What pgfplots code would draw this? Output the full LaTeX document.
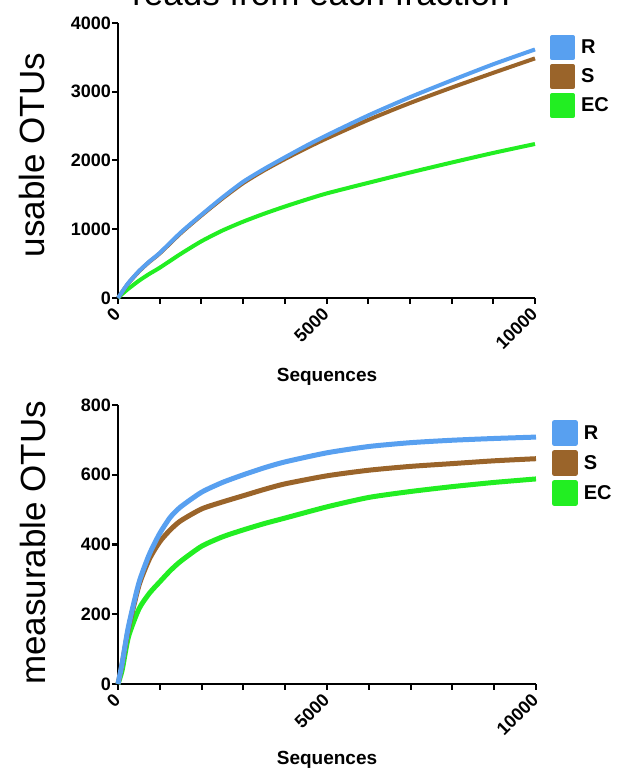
\documentclass[border=0pt]{standalone}
\usepackage{fontspec}
\setmainfont{Liberation Sans}
\usepackage{pgfplots}
\usepackage{pgfplotstable}
\pgfplotsset{compat=1.18}
\definecolor{rcol}{RGB}{88,160,240}
\definecolor{scol}{RGB}{154,100,42}
\definecolor{eccol}{RGB}{34,238,34}

\pgfplotstableread{
x R S EC
0 0 0 0
100 90 88 58
250 220 215 135
500 390 385 250
750 530 525 350
1000 655 648 440
1500 950 940 640
2000 1210 1200 825
2500 1460 1445 980
3000 1690 1670 1110
3500 1875 1855 1225
4000 2045 2020 1330
4500 2210 2175 1428
5000 2365 2320 1520
6000 2655 2590 1675
7000 2920 2835 1825
8000 3165 3060 1970
9000 3400 3275 2110
10000 3615 3485 2240
}\topdata

\pgfplotstableread{
x R S EC
0 0 0 0
100 60 58 40
250 165 158 135
500 290 282 215
750 372 358 260
1000 432 408 293
1250 478 442 325
1500 508 468 352
2000 550 502 395
2500 578 522 422
3000 600 540 442
3500 620 558 460
4000 637 574 476
5000 663 597 508
6000 681 613 535
7000 692 624 552
8000 699 632 566
9000 704 640 578
10000 708 646 588
}\botdata

\pgfplotsset{
 prism/.style={
  scale only axis,
  axis x line*=bottom, axis y line*=left,
  axis line style={line width=2.5pt, -},
  xmin=0, xmax=10000, ymin=0,
  scaled x ticks=false, scaled y ticks=false,
  xtick={0,1000,...,10000},
  xticklabels={0,,,,,5000,,,,,10000},
  tick align=outside,
  major tick length=6pt,
  tick style={black, line width=2pt},
  tick label style={font=\fontsize{18}{18}\selectfont\bfseries},
  yticklabel style={inner sep=1pt},
  xticklabel shift=6pt,
  xticklabel style={rotate=45, anchor=east, inner sep=1pt},
  /pgf/number format/assume math mode=true,
  /pgf/number format/1000 sep={},
  legend style={draw=none, fill=none, font=\fontsize{20}{20}\selectfont\bfseries,
    inner sep=0pt, outer sep=0pt,
    row sep=4pt, column sep=6pt, nodes={inner sep=0pt}, anchor=north west},
  legend cell align=left,
  reverse legend,
  legend image code/.code={\fill[sharp corners] (0pt,-10.5pt) rectangle (21pt,10.5pt);},
  every axis plot/.append style={no markers, line join=round, smooth, tension=0.4},
  clip=false,
 }
}

\begin{document}
\begin{tikzpicture}
\path[use as bounding box] (0,0) rectangle (616pt,775pt);

\node[anchor=base, font=\fontsize{35}{35}\selectfont] at (321pt,769pt) {reads from each fraction};

\begin{axis}[prism, at={(118pt,477pt)}, anchor=south west,
  width=417pt, height=275pt, ymax=4000, ytick={0,1000,...,4000},
  legend style={at={(1.036,0.956)}}]
\addplot[color=eccol, line width=4pt] table[x=x,y=EC] {\topdata};
\addlegendentry{EC}
\addplot[color=scol, line width=4pt] table[x=x,y=S] {\topdata};
\addlegendentry{S}
\addplot[color=rcol, line width=4pt] table[x=x,y=R] {\topdata};
\addlegendentry{R}
\end{axis}

\begin{axis}[prism, at={(118pt,91pt)}, anchor=south west,
  width=418pt, height=279pt, ymax=800, ytick={0,200,...,800},
  legend style={at={(1.038,0.946)}}]
\addplot[color=eccol, line width=5pt] table[x=x,y=EC] {\botdata};
\addlegendentry{EC}
\addplot[color=scol, line width=5pt] table[x=x,y=S] {\botdata};
\addlegendentry{S}
\addplot[color=rcol, line width=5pt] table[x=x,y=R] {\botdata};
\addlegendentry{R}
\end{axis}

\node[rotate=90, font=\fontsize{35}{35}\selectfont] at (32pt,620pt) {usable OTUs};
\node[rotate=90, font=\fontsize{35}{35}\selectfont] at (33pt,232pt) {measurable OTUs};
\node[font=\fontsize{19}{19}\selectfont\bfseries] at (327pt,398pt) {Sequences};
\node[font=\fontsize{19}{19}\selectfont\bfseries] at (327pt,15pt) {Sequences};
\end{tikzpicture}
\end{document}
